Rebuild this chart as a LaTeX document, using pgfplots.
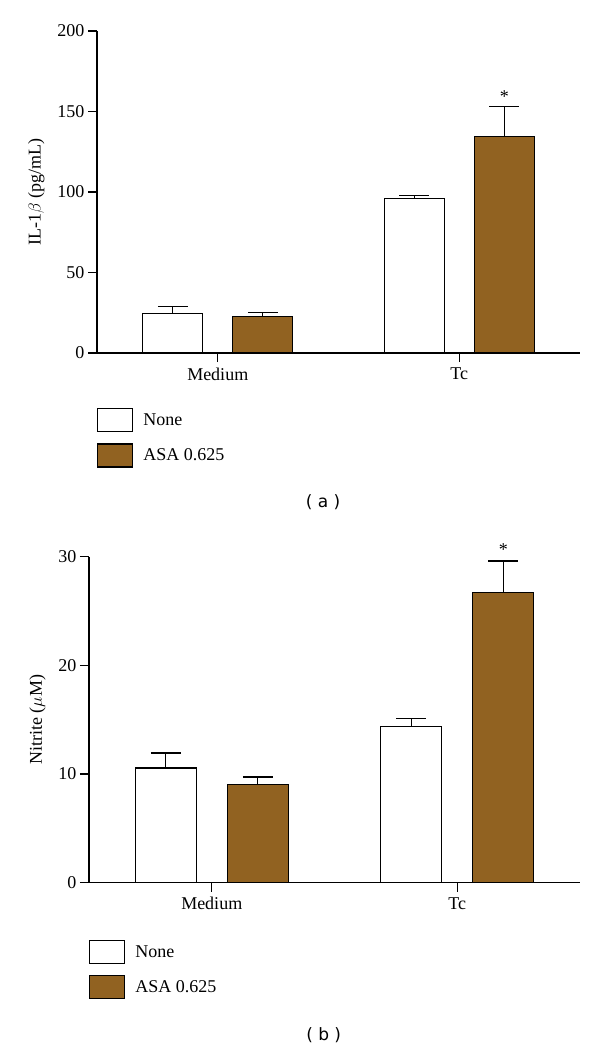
\documentclass[border=0pt]{standalone}
\usepackage{pgfplots}
\pgfplotsset{compat=1.18}
\usepackage{fontspec}
\setmainfont{Liberation Serif}
\newfontfamily\labsans{DejaVu Sans}
\definecolor{asabrown}{RGB}{145,98,33}
\pgfplotsset{
  panel/.style={
    scale only axis, clip=false,
    axis x line*=bottom, axis y line*=left,
    axis line style={line width=1.2pt, black},
    tick style={line width=1.2pt, black},
    tick align=outside, major tick length=9pt,
    xmin=-0.5, xmax=1.5, ymin=0,
    xtick={0,1}, xticklabels={Medium,Tc},
    x tick label style={yshift=-2pt},
    ticklabel style={font=\fontsize{18}{20}\selectfont},
    label style={font=\fontsize{18}{20}\selectfont},
    ylabel shift=6pt,
    /pgf/number format/assume math mode=true,
    error bars/error bar style={line width=1.2pt, black},
    error bars/error mark options={rotate=90, mark size=15pt, line width=1.2pt, black},
    legend style={draw=none, fill=none, inner sep=0pt, anchor=north west,
      font=\fontsize{18}{20}\selectfont, row sep=11pt,
      /tikz/every odd column/.append style={column sep=8pt}},
    legend cell align=left,
  },
  boxlegend/.style={
    legend image code/.code={\draw[draw=black, line width=1.2pt, ##1] (0pt,-11.5pt) rectangle (35pt,11.5pt);},
  },
}
\begin{document}
\begin{tikzpicture}
\useasboundingbox (0pt,0pt) rectangle (600pt,-1049pt);
% ---------- panel (a)
\begin{axis}[panel,
  at={(97pt,-353pt)}, anchor=south west,
  width=483pt, height=322pt,
  ybar=30pt, bar width=60pt, boxlegend,
  ymax=200, ytick={0,50,100,150,200},
  ylabel={IL-1$\beta$ (pg/mL)},
  legend style={at={(0,0)}, yshift=-55pt},
]
\addplot[fill=white, draw=black, line width=1.2pt,
  error bars/.cd, y dir=plus, y explicit]
  coordinates {(0,24.6) +- (0,4.2) (1,96.1) +- (0,1.9)};
\addlegendentry{None}
\addplot[fill=asabrown, draw=black, line width=1.2pt,
  error bars/.cd, y dir=plus, y explicit]
  coordinates {(0,22.6) +- (0,2.4) (1,134.3) +- (0,18.7)};
\addlegendentry{ASA 0.625}
\node[font=\fontsize{18}{20}\selectfont] at (axis cs:1,153) [xshift=45pt, yshift=10pt] {*};
\node[font=\labsans\fontsize{17}{20}\selectfont] at (rel axis cs:0.468,0) [yshift=-149pt] {( a )};
\end{axis}
% ---------- panel (b)
\begin{axis}[panel,
  at={(89pt,-882.7pt)}, anchor=south west,
  width=491pt, height=326pt,
  ybar=31pt, bar width=61pt, boxlegend,
  ymax=30, ytick={0,10,20,30},
  ylabel={Nitrite ($\mu$M)},
  legend style={at={(0,0)}, yshift=-57pt},
]
\addplot[fill=white, draw=black, line width=1.2pt,
  error bars/.cd, y dir=plus, y explicit]
  coordinates {(0,10.55) +- (0,1.38) (1,14.35) +- (0,0.77)};
\addlegendentry{None}
\addplot[fill=asabrown, draw=black, line width=1.2pt,
  error bars/.cd, y dir=plus, y explicit]
  coordinates {(0,9.02) +- (0,0.7) (1,26.74) +- (0,2.86)};
\addlegendentry{ASA 0.625}
\node[font=\fontsize{18}{20}\selectfont] at (axis cs:1,29.6) [xshift=46pt, yshift=11pt] {*};
\node[font=\labsans\fontsize{17}{20}\selectfont] at (rel axis cs:0.478,0) [yshift=-152pt] {( b )};
\end{axis}
\end{tikzpicture}
\end{document}
